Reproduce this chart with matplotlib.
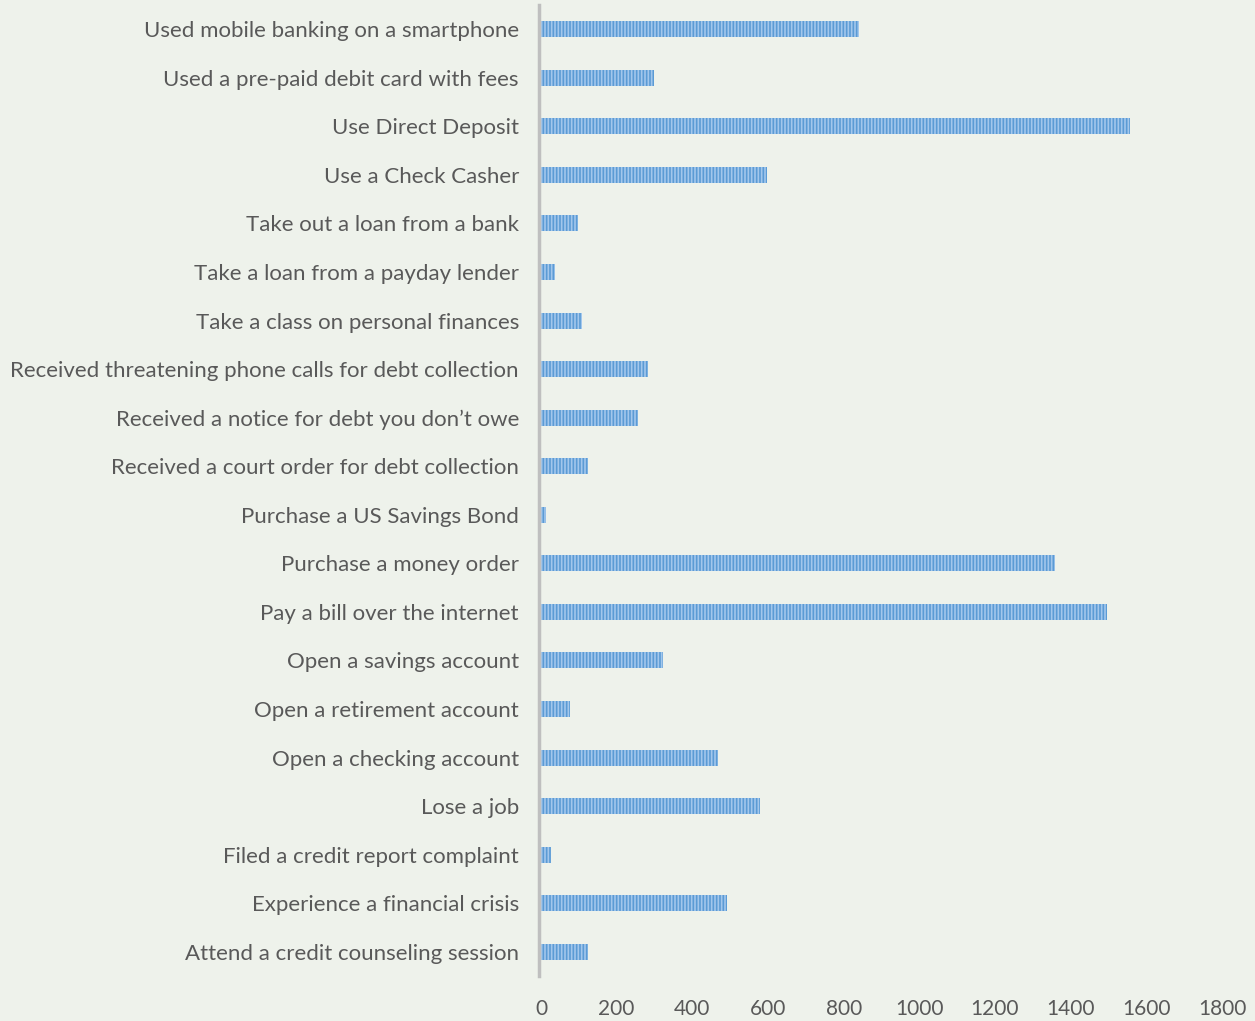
import matplotlib
matplotlib.use("Agg")
import matplotlib.pyplot as plt

categories = [
    "Used mobile banking on a smartphone",
    "Used a pre-paid debit card with fees",
    "Use Direct Deposit",
    "Use a Check Casher",
    "Take out a loan from a bank",
    "Take a loan from a payday lender",
    "Take a class on personal finances",
    "Received threatening phone calls for debt collection",
    "Received a notice for debt you don\u2019t owe",
    "Received a court order for debt collection",
    "Purchase a US Savings Bond",
    "Purchase a money order",
    "Pay a bill over the internet",
    "Open a savings account",
    "Open a retirement account",
    "Open a checking account",
    "Lose a job",
    "Filed a credit report complaint",
    "Experience a financial crisis",
    "Attend a credit counseling session",
]
values = [841, 299, 1557, 597, 98, 37, 108, 283, 256, 124,
          13, 1359, 1496, 322, 77, 468, 579, 26, 492, 124]
xticks = [0, 200, 400, 600, 800, 1000, 1200, 1400, 1600, 1800]

bg = "#eef2eb"
plt.rcParams["font.family"] = ["Lato", "DejaVu Sans"]
plt.rcParams["hatch.linewidth"] = 1.2

fig = plt.figure(figsize=(12.55, 10.21), dpi=100, facecolor=bg)
ax = fig.add_axes([541 / 1255, 1 - 976 / 1021, (1222 - 541) / 1255, (976 - 5) / 1021])
ax.set_facecolor(bg)

for s in ["top", "right", "bottom"]:
    ax.spines[s].set_visible(False)
ax.spines["left"].set_color("#bfbfbf")
ax.spines["left"].set_linewidth(2.5)
ax.spines["left"].set_position(("data", -5))

ypos = list(range(len(categories)))
ax.barh(ypos, values, height=0.33, color="#5b9bd5", edgecolor="#a3c7ec",
        linewidth=0, hatch="|||||")
ax.set_ylim(len(categories) - 0.5, -0.5)
ax.set_xlim(0, 1800)
ax.set_yticks(ypos)
ax.set_yticklabels(categories)
ax.set_xticks(xticks)
ax.set_xticklabels([str(t) for t in xticks])
ax.tick_params(axis="both", length=0, labelcolor="#595959")
ax.tick_params(axis="y", pad=14.5, labelsize=16)
ax.tick_params(axis="x", pad=16.5, labelsize=15)

fig.savefig("out.png", dpi=100, facecolor=bg)
